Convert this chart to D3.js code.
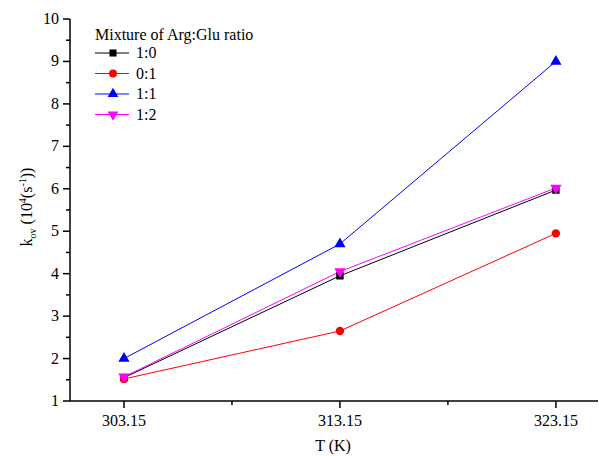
<!DOCTYPE html>
<html>
<head>
<meta charset="utf-8">
<script src="https://cdn.jsdelivr.net/npm/d3@7"></script>
<style>
body { margin: 0; background: #fff; }
text { font-family: "Liberation Serif", serif; }
</style>
</head>
<body>
<svg id="chart" width="599" height="456"></svg>
<script>
var temps = [303.15, 313.15, 323.15];
var series_names = ["1:0", "0:1", "1:1", "1:2"];
var k_10 = [1.55, 3.95, 5.97];
var k_01 = [1.52, 2.65, 4.95];
var k_11 = [2.0, 4.7, 9.0];
var k_12 = [1.57, 4.05, 6.02];
var x_ticks = [303.15, 313.15, 323.15];
var y_ticks = [1, 2, 3, 4, 5, 6, 7, 8, 9, 10];

var series = [
    {name: series_names[0], values: k_10, color: "#000000", symbol: d3.symbolSquare, rot: 0},
    {name: series_names[1], values: k_01, color: "#ff0000", symbol: d3.symbolCircle, rot: 0},
    {name: series_names[2], values: k_11, color: "#0000ff", symbol: d3.symbolTriangle, rot: 0},
    {name: series_names[3], values: k_12, color: "#ff00ff", symbol: d3.symbolTriangle, rot: 180}
];

var svg = d3.select("#chart");

var x = d3.scaleLinear().domain([300.65, 325.1]).range([70, 598]);
var y = d3.scaleLinear().domain([1, 10]).range([401, 19]);

// minor ticks
var x_minor = [308.15, 318.15];
var y_minor = d3.range(1.5, 10, 1);

var xAxis = svg.append("g").attr("transform", "translate(0,401)");
xAxis.append("line").attr("x1", 70).attr("x2", 598).attr("stroke", "#000").attr("stroke-width", 1.5);
xAxis.selectAll(".major").data(x_ticks).enter().append("line")
    .attr("x1", function(d) { return x(d); }).attr("x2", function(d) { return x(d); })
    .attr("y1", 0).attr("y2", 7).attr("stroke", "#000").attr("stroke-width", 1.5);
xAxis.selectAll(".minor").data(x_minor).enter().append("line")
    .attr("x1", function(d) { return x(d); }).attr("x2", function(d) { return x(d); })
    .attr("y1", 0).attr("y2", 4).attr("stroke", "#000").attr("stroke-width", 1.5);
xAxis.selectAll(".lbl").data(x_ticks).enter().append("text")
    .attr("x", function(d) { return x(d); }).attr("y", 25)
    .attr("text-anchor", "middle").attr("font-size", 16)
    .text(function(d) { return d.toFixed(2); });

var yAxis = svg.append("g").attr("transform", "translate(70,0)");
yAxis.append("line").attr("y1", 19).attr("y2", 401).attr("stroke", "#000").attr("stroke-width", 1.5);
yAxis.selectAll(".major").data(y_ticks).enter().append("line")
    .attr("y1", function(d) { return y(d); }).attr("y2", function(d) { return y(d); })
    .attr("x1", 0).attr("x2", -7).attr("stroke", "#000").attr("stroke-width", 1.5);
yAxis.selectAll(".minor").data(y_minor).enter().append("line")
    .attr("y1", function(d) { return y(d); }).attr("y2", function(d) { return y(d); })
    .attr("x1", 0).attr("x2", -4).attr("stroke", "#000").attr("stroke-width", 1.5);
yAxis.selectAll(".lbl").data(y_ticks).enter().append("text")
    .attr("x", -11).attr("y", function(d) { return y(d) + 5; })
    .attr("text-anchor", "end").attr("font-size", 16)
    .text(function(d) { return d; });

// axis titles
svg.append("text").attr("x", 333).attr("y", 451).attr("text-anchor", "middle")
    .attr("font-size", 16).text("T (K)");

var ylab = svg.append("text").attr("transform", "translate(32,207) rotate(-90)")
    .attr("text-anchor", "middle").attr("font-size", 16);
ylab.append("tspan").text("k");
ylab.append("tspan").attr("font-size", 10).attr("dy", 4).text("ov");
ylab.append("tspan").attr("dy", -4).text(" (10");
ylab.append("tspan").attr("font-size", 10).attr("dy", -6).text("4");
ylab.append("tspan").attr("dy", 6).text("(s");
ylab.append("tspan").attr("font-size", 10).attr("dy", -6).text("-1");
ylab.append("tspan").attr("dy", 6).text("))");

// lines and markers
var line = d3.line()
    .x(function(d, i) { return x(temps[i]); })
    .y(function(d) { return y(d); });

series.forEach(function(s) {
    svg.append("path").datum(s.values)
        .attr("d", line).attr("fill", "none")
        .attr("stroke", s.color).attr("stroke-width", 1);
});
series.forEach(function(s) {
    svg.selectAll(null).data(s.values).enter().append("path")
        .attr("d", d3.symbol().type(s.symbol).size(55))
        .attr("transform", function(d, i) {
            return "translate(" + x(temps[i]) + "," + y(d) + ") rotate(" + s.rot + ")";
        })
        .attr("fill", s.color);
});

// legend
var legend = svg.append("g");
legend.append("text").attr("x", 95).attr("y", 40).attr("font-size", 16)
    .text("Mixture of Arg:Glu ratio");
series.forEach(function(s, i) {
    var ly = 53 + i * 20.5;
    legend.append("line").attr("x1", 95).attr("x2", 129).attr("y1", ly).attr("y2", ly)
        .attr("stroke", s.color).attr("stroke-width", 1);
    legend.append("path")
        .attr("d", d3.symbol().type(s.symbol).size(50))
        .attr("transform", "translate(113," + ly + ") rotate(" + s.rot + ")")
        .attr("fill", s.color);
    legend.append("text").attr("x", 136).attr("y", ly + 5).attr("font-size", 16).text(s.name);
});
</script>
</body>
</html>
